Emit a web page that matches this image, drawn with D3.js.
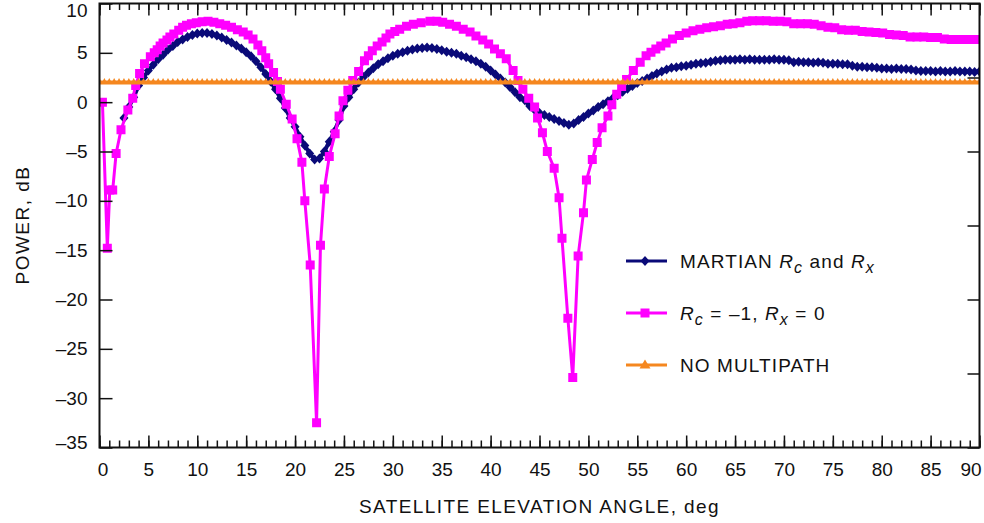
<!DOCTYPE html>
<html>
<head>
<meta charset="utf-8">
<script src="https://cdn.jsdelivr.net/npm/d3@7"></script>
<style>
  body { margin: 0; background: #fff; }
  text { font-family: "Liberation Sans", Arial, sans-serif; fill: #111; }
</style>
</head>
<body>
<svg id="chart" width="984" height="523"></svg>
<script>
// power vs elevation, three cases

// x ticks / y ticks
var xMajorTicks = d3.range(0, 91, 5);
var xMinorTicks = d3.range(0, 91, 1);
var yTicks = [10, 5, 0, -5, -10, -15, -20, -25, -30, -35];
var yRightTicks = [10, 2.5, -5, -12.5, -20, -27.5, -35];

// MARTIAN Rc and Rx, read every 0.5 deg from 2.5 deg
var martianAngle = d3.range(2.5, 90.01, 0.5);
var martianPower = [
    -1.6, -0.5, 0.5, 1.7, 2.5, 3.2, 3.8, 4.35, 4.8, 5.3,
    5.7, 6.1, 6.35, 6.6, 6.8, 6.95, 7.0, 7.0, 6.9, 6.75,
    6.55, 6.3, 6.05, 5.75, 5.45, 5.05, 4.65, 4.15, 3.55, 2.85,
    2.1, 1.3, 0.4, -0.6, -1.6, -2.5, -3.5, -4.4, -5.2, -5.8,
    -5.7, -5.0, -4.0, -3.0, -1.8, -0.4, 0.5, 1.3, 2.0, 2.55,
    3.0, 3.45, 3.85, 4.15, 4.45, 4.7, 4.9, 5.05, 5.2, 5.35,
    5.45, 5.5, 5.55, 5.5, 5.4, 5.25, 5.1, 5.0, 4.9, 4.7,
    4.55, 4.35, 4.15, 3.9, 3.6, 3.2, 2.8, 2.4, 2.0, 1.5,
    1.0, 0.5, 0.2, -0.4, -0.8, -1.1, -1.3, -1.5, -1.7, -1.9,
    -2.1, -2.3, -2.15, -1.8, -1.5, -1.15, -0.85, -0.5, -0.2, 0.1,
    0.4, 0.7, 1.05, 1.35, 1.65, 1.95, 2.15, 2.4, 2.65, 2.9,
    3.1, 3.3, 3.5, 3.55, 3.65, 3.7, 3.8, 3.9, 3.95, 4.0,
    4.1, 4.2, 4.25, 4.3, 4.3, 4.3, 4.35, 4.3, 4.35, 4.3,
    4.3, 4.3, 4.3, 4.35, 4.3, 4.3, 4.25, 4.05, 4.1, 4.05,
    4.05, 4.0, 4.05, 4.0, 3.9, 3.9, 3.9, 3.85, 3.85, 3.7,
    3.6, 3.6, 3.55, 3.55, 3.5, 3.4, 3.4, 3.35, 3.4, 3.35,
    3.35, 3.3, 3.2, 3.15, 3.15, 3.15, 3.1, 3.15, 3.1, 3.1,
    3.15, 3.1, 3.1, 3.1, 3.05, 3.1
];

// Rc = -1, Rx = 0  [angle, power]
var reflectorPoints = [
    [0.3, 0.0], [0.8, -14.8], [1.05, -8.9], [1.35, -8.9], [1.7, -5.2],
    [2.2, -2.8], [2.9, -0.8], [3.4, 0.4], [3.7, 1.7], [4.1, 2.9],
    [4.6, 3.9], [5.2, 4.6], [5.6, 5.0], [5.9, 5.3], [6.2, 5.7],
    [6.5, 6.0], [6.9, 6.3], [7.2, 6.6], [7.6, 6.9], [8.1, 7.3],
    [8.5, 7.6], [8.9, 7.8], [9.4, 7.95], [9.9, 8.05], [10.5, 8.15],
    [11.1, 8.2], [11.7, 8.1], [12.3, 7.95], [12.9, 7.8], [13.5, 7.6],
    [14.1, 7.35], [14.7, 7.1], [15.2, 6.8], [15.7, 6.4], [16.2, 5.8],
    [16.6, 5.2], [17.0, 4.5], [17.3, 3.9], [17.8, 3.0], [18.2, 2.1],
    [18.5, 1.3], [19.1, -0.2], [19.7, -1.7], [20.2, -3.7], [20.7, -6.1],
    [21.0, -10.0], [21.55, -16.5], [22.2, -32.5], [22.6, -14.5], [23.0, -8.8],
    [23.5, -5.5], [24.1, -3.2], [24.5, -1.4], [24.9, 0.15], [25.4, 1.2],
    [25.9, 2.2], [26.5, 3.1], [27.1, 4.2], [27.5, 4.7], [27.9, 5.2],
    [28.4, 5.7], [28.9, 6.1], [29.3, 6.5], [29.7, 6.9], [30.2, 7.15],
    [30.7, 7.4], [31.4, 7.7], [32.1, 7.9], [32.9, 8.05], [33.8, 8.2],
    [34.5, 8.2], [35.1, 8.1], [35.8, 7.9], [36.5, 7.7], [37.2, 7.4],
    [37.9, 7.1], [38.5, 6.7], [39.2, 6.3], [39.8, 5.9], [40.4, 5.4],
    [41.0, 4.9], [41.6, 4.4], [42.3, 3.2], [42.8, 2.2], [43.3, 1.3],
    [43.9, 0.4], [44.5, -0.5], [44.8, -1.6], [45.3, -3.1], [45.8, -5.0],
    [46.5, -6.7], [47.0, -9.7], [47.3, -13.8], [47.9, -21.9], [48.4, -27.9],
    [48.95, -15.6], [49.5, -11.2], [49.8, -7.9], [50.4, -5.8], [50.9, -4.1],
    [51.4, -2.6], [52.0, -1.4], [52.4, -0.25], [52.9, 0.8], [53.4, 1.6],
    [53.9, 2.3], [54.6, 3.2], [55.3, 4.05], [55.9, 4.7], [56.4, 5.05],
    [56.9, 5.4], [57.4, 5.7], [57.95, 6.0], [58.6, 6.4], [59.3, 6.75],
    [60.0, 7.0], [60.7, 7.25], [61.4, 7.4], [62.1, 7.55], [62.8, 7.65],
    [63.5, 7.75], [64.2, 7.9], [64.8, 7.95], [65.5, 8.05], [66.2, 8.2],
    [66.8, 8.25], [67.5, 8.25], [68.2, 8.25], [68.9, 8.2], [69.6, 8.2],
    [70.3, 8.15], [71.0, 7.95], [71.7, 7.95], [72.4, 7.95], [73.1, 7.9],
    [73.8, 7.75], [74.5, 7.6], [75.2, 7.55], [75.9, 7.35], [76.6, 7.3],
    [77.3, 7.3], [78.0, 7.15], [78.7, 7.1], [79.4, 7.05], [80.1, 7.0],
    [80.8, 6.85], [81.5, 6.8], [82.2, 6.75], [82.9, 6.6], [83.6, 6.6],
    [84.3, 6.6], [85.0, 6.55], [85.7, 6.55], [86.4, 6.4], [87.1, 6.35],
    [87.8, 6.35], [88.5, 6.35], [89.2, 6.35], [89.9, 6.35]
];

// NO MULTIPATH, flat level
var noMultipathAngle = d3.range(0, 90.01, 0.5);
var noMultipathLevel = 2.0;

var navy = "#0a0a78", pink = "#ff00ff", orange = "#f5871f";

var svg = d3.select("#chart");
var x = d3.scaleLinear().domain([0, 90]).range([99.5, 979.5]);
var y = d3.scaleLinear().domain([-35, 10]).range([447.5, 3.5]);

var diamond = "M0,-5L4.5,0L0,5L-4.5,0Z";
var square = "M-4.5,-4.5H4.5V4.5H-4.5Z";
var smallTri = "M0,-4.5L3.2,1.5L-3.2,1.5Z";
var bigTri = "M0,-5.5L5.5,3.5L-5.5,3.5Z";

svg.append("defs").append("clipPath").attr("id", "plotclip")
    .append("rect")
    .attr("x", x(0)).attr("y", y(10))
    .attr("width", x(90) - x(0)).attr("height", y(-35) - y(10));

var plot = svg.append("g").attr("clip-path", "url(#plotclip)");

function drawSeries(pts, color, lineWidth, shape) {
    var line = d3.line().x(function(d) { return x(d[0]); }).y(function(d) { return y(d[1]); });
    plot.append("path")
        .datum(pts)
        .attr("d", line)
        .attr("fill", "none")
        .attr("stroke", color)
        .attr("stroke-width", lineWidth)
        .attr("stroke-linejoin", "round");
    plot.append("g").selectAll("path")
        .data(pts)
        .enter().append("path")
        .attr("d", shape)
        .attr("transform", function(d) { return "translate(" + x(d[0]) + "," + y(d[1]) + ")"; })
        .attr("fill", color);
}

var martianPts = martianAngle.map(function(a, i) { return [a, martianPower[i]]; });
var noMultiPts = noMultipathAngle.map(function(a) { return [a, noMultipathLevel]; });

drawSeries(martianPts, navy, 4, diamond);
drawSeries(reflectorPoints, pink, 3, square);
drawSeries(noMultiPts, orange, 4, smallTri);

// axes, ticks inward
function cleanAxis(g) {
    g.select(".domain").remove();
    g.selectAll(".tick line").attr("stroke", "#111").attr("stroke-width", 1.5);
}

var axBottom = svg.append("g")
    .attr("transform", "translate(0," + y(-35) + ")")
    .call(d3.axisBottom(x).tickValues(xMajorTicks).tickSize(-12).tickPadding(15.5));
cleanAxis(axBottom);
axBottom.selectAll("text")
    .attr("font-size", 19)
    .attr("font-family", "Liberation Sans, Arial, sans-serif")
    .attr("fill", "#111")
    .attr("dx", function(d) { return d == 0 ? 3 : (d == 90 ? -9 : 0); });

var axBottomMinor = svg.append("g")
    .attr("transform", "translate(0," + y(-35) + ")")
    .call(d3.axisBottom(x).tickValues(xMinorTicks).tickSize(-7).tickFormat(""));
cleanAxis(axBottomMinor);
axBottomMinor.selectAll("text").remove();

var axTop = svg.append("g")
    .attr("transform", "translate(0," + y(10) + ")")
    .call(d3.axisTop(x).tickValues(xMajorTicks).tickSize(-12).tickFormat(""));
cleanAxis(axTop);
axTop.selectAll("text").remove();
var axTopMinor = svg.append("g")
    .attr("transform", "translate(0," + y(10) + ")")
    .call(d3.axisTop(x).tickValues(xMinorTicks).tickSize(-6.5).tickFormat(""));
cleanAxis(axTopMinor);
axTopMinor.selectAll("text").remove();

var axLeft = svg.append("g")
    .attr("transform", "translate(" + x(0) + ",0)")
    .call(d3.axisLeft(y).tickValues(yTicks).tickSize(-13).tickPadding(12)
        .tickFormat(function(d) { return d < 0 ? "\u2013" + Math.abs(d) : d; }));
cleanAxis(axLeft);
axLeft.selectAll("text")
    .attr("font-size", 19)
    .attr("font-family", "Liberation Sans, Arial, sans-serif")
    .attr("fill", "#111")
    .attr("dy", function(d) { return d == 10 ? "0.66em" : (d == -35 ? "0.05em" : "0.32em"); });

var axRight = svg.append("g")
    .attr("transform", "translate(" + x(90) + ",0)")
    .call(d3.axisRight(y).tickValues(yRightTicks).tickSize(-12).tickFormat(""));
cleanAxis(axRight);
axRight.selectAll("text").remove();

// frame
svg.append("rect")
    .attr("x", x(0)).attr("y", y(10))
    .attr("width", x(90) - x(0)).attr("height", y(-35) - y(10))
    .attr("fill", "none").attr("stroke", "#111").attr("stroke-width", 2);

// axis titles
svg.append("text")
    .attr("x", (x(0) + x(90)) / 2)
    .attr("y", 513)
    .attr("text-anchor", "middle")
    .attr("font-size", 19)
    .attr("letter-spacing", 1.4)
    .text("SATELLITE ELEVATION ANGLE, deg");

svg.append("text")
    .attr("transform", "translate(29,225) rotate(-90)")
    .attr("text-anchor", "middle")
    .attr("font-size", 19)
    .attr("letter-spacing", 1.5)
    .text("POWER, dB");

// legend
var legendRows = [
    { color: navy, shape: diamond, y: 261 },
    { color: pink, shape: square, y: 313 },
    { color: orange, shape: bigTri, y: 365 }
];
var legend = svg.append("g");
legendRows.forEach(function(r) {
    legend.append("line")
        .attr("x1", 626).attr("x2", 667)
        .attr("y1", r.y).attr("y2", r.y)
        .attr("stroke", r.color).attr("stroke-width", 3);
    legend.append("path")
        .attr("d", r.shape)
        .attr("transform", "translate(645," + r.y + ")")
        .attr("fill", r.color);
});

function legendText(rowY) {
    return legend.append("text")
        .attr("x", 680)
        .attr("y", rowY + 7)
        .attr("font-size", 19)
        .attr("letter-spacing", 1.1);
}
// italic R with a lowered italic subscript
function addR(t, sub) {
    t.append("tspan").attr("font-style", "italic").text("R");
    t.append("tspan").attr("font-style", "italic").attr("font-size", 16)
        .attr("baseline-shift", "-5").text(sub);
}

var t1 = legendText(legendRows[0].y);
t1.append("tspan").text("MARTIAN ");
addR(t1, "c");
t1.append("tspan").text(" and ");
addR(t1, "x");

var t2 = legendText(legendRows[1].y);
addR(t2, "c");
t2.append("tspan").text(" = \u20131, ");
addR(t2, "x");
t2.append("tspan").text(" = 0");

legendText(legendRows[2].y).text("NO MULTIPATH");
</script>
</body>
</html>
